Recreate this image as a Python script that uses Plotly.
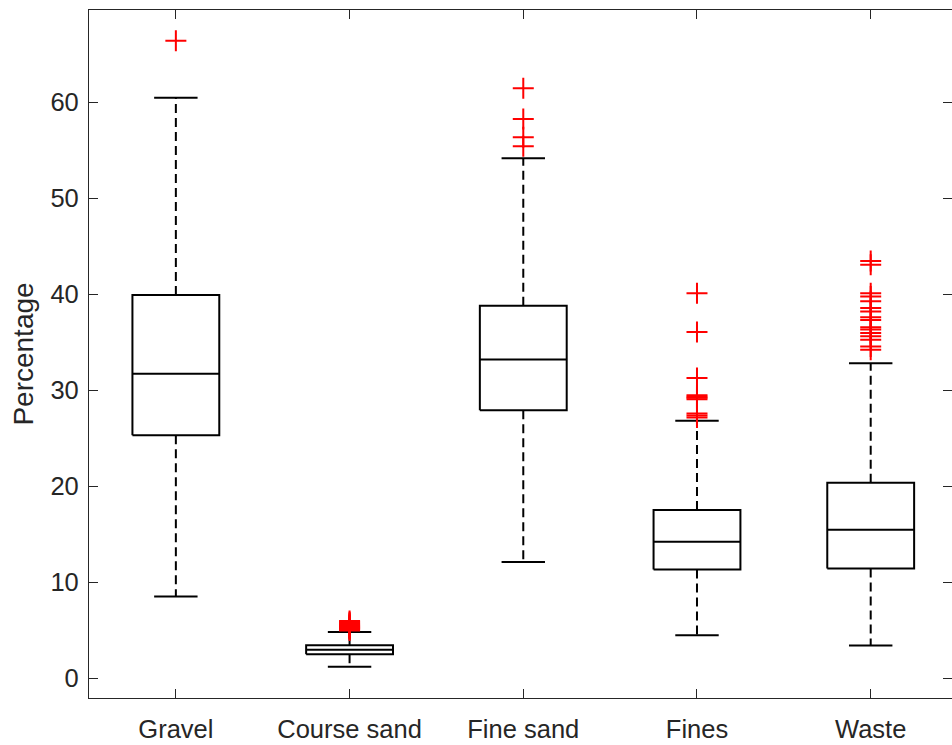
import plotly.graph_objects as go

# Box-plot summary statistics per material class (percent)
categories = ["Gravel", "Course sand", "Fine sand", "Fines", "Waste"]
q1 = [25.3, 2.48, 27.9, 11.3, 11.4]
median = [31.7, 2.95, 33.2, 14.2, 15.45]
q3 = [39.9, 3.42, 38.8, 17.5, 20.35]
lower_whisker = [8.5, 1.18, 12.1, 4.45, 3.4]
upper_whisker = [60.45, 4.8, 54.15, 26.8, 32.8]

# Outliers beyond the whiskers, one list per class
gravel_outliers = [66.4]
course_sand_outliers = [4.95, 5.05, 5.15, 5.2, 5.3, 5.35, 5.45, 5.5, 5.6, 5.7, 5.8, 5.95]
fine_sand_outliers = [61.45, 58.25, 56.35, 55.4]
fines_outliers = [40.1, 36.05, 31.25, 29.45, 29.3, 29.2, 29.05, 27.55, 27.35, 27.15]
waste_outliers = [43.45, 43.05, 40.1, 39.75, 39.25, 38.55, 38.2, 37.6, 37.3,
                  36.55, 36.3, 35.95, 35.6, 35.25, 34.55, 34.2]
outliers = [gravel_outliers, course_sand_outliers, fine_sand_outliers,
            fines_outliers, waste_outliers]

y_ticks = [0, 10, 20, 30, 40, 50, 60]

BOX_HALF = 0.25   # half box width in category units
CAP_HALF = 0.125  # half whisker-cap width
AXIS_COLOR = "#262626"
FONT = "Liberation Sans, Arial, Helvetica, sans-serif"

positions = list(range(1, len(categories) + 1))

box_x, box_y = [], []
med_x, med_y = [], []
whisk_x, whisk_y = [], []
cap_x, cap_y = [], []
out_x, out_y = [], []
for p, a, m, b, lo, hi, outs in zip(positions, q1, median, q3,
                                     lower_whisker, upper_whisker, outliers):
    box_x += [p - BOX_HALF, p + BOX_HALF, p + BOX_HALF, p - BOX_HALF, p - BOX_HALF, None]
    box_y += [a, a, b, b, a, None]
    med_x += [p - BOX_HALF, p + BOX_HALF, None]
    med_y += [m, m, None]
    whisk_x += [p, p, None, p, p, None]
    whisk_y += [b, hi, None, a, lo, None]
    cap_x += [p - CAP_HALF, p + CAP_HALF, None, p - CAP_HALF, p + CAP_HALF, None]
    cap_y += [hi, hi, None, lo, lo, None]
    out_x += [p] * len(outs)
    out_y += outs

fig = go.Figure()
fig.add_trace(go.Scatter(x=whisk_x, y=whisk_y, mode="lines",
                         line=dict(color="black", width=2, dash="9px,5px"),
                         hoverinfo="skip"))
fig.add_trace(go.Scatter(x=cap_x, y=cap_y, mode="lines",
                         line=dict(color="black", width=2), hoverinfo="skip"))
fig.add_trace(go.Scatter(x=box_x, y=box_y, mode="lines",
                         line=dict(color="black", width=2), hoverinfo="skip"))
fig.add_trace(go.Scatter(x=med_x, y=med_y, mode="lines",
                         line=dict(color="black", width=2), hoverinfo="skip"))
fig.add_trace(go.Scatter(x=out_x, y=out_y, mode="markers",
                         marker=dict(symbol="cross-thin", size=15,
                                     line=dict(color="#ff0000", width=2),
                                     color="#ff0000")))

axis_common = dict(
    showline=True, linecolor=AXIS_COLOR, linewidth=1.3, mirror="ticks",
    ticks="inside", ticklen=9, tickwidth=1.3, tickcolor=AXIS_COLOR,
    showgrid=False, zeroline=False,
    tickfont=dict(family=FONT, size=25.5, color=AXIS_COLOR),
)

fig.update_layout(
    width=952, height=745,
    margin=dict(l=89, r=0, t=10, b=47),
    paper_bgcolor="white", plot_bgcolor="white",
    showlegend=False,
    xaxis=dict(range=[0.5, 5.468], tickmode="array", tickvals=positions,
               ticktext=categories, ticklabelstandoff=8, **axis_common),
    yaxis=dict(range=[-2.08, 69.6], tickmode="array", tickvals=y_ticks,
               ticktext=[str(v) for v in y_ticks], ticklabelstandoff=4,
               title=dict(text="Percentage", standoff=8,
                          font=dict(family=FONT, size=28, color=AXIS_COLOR)),
               **axis_common),
)

fig.write_html("out.html")
